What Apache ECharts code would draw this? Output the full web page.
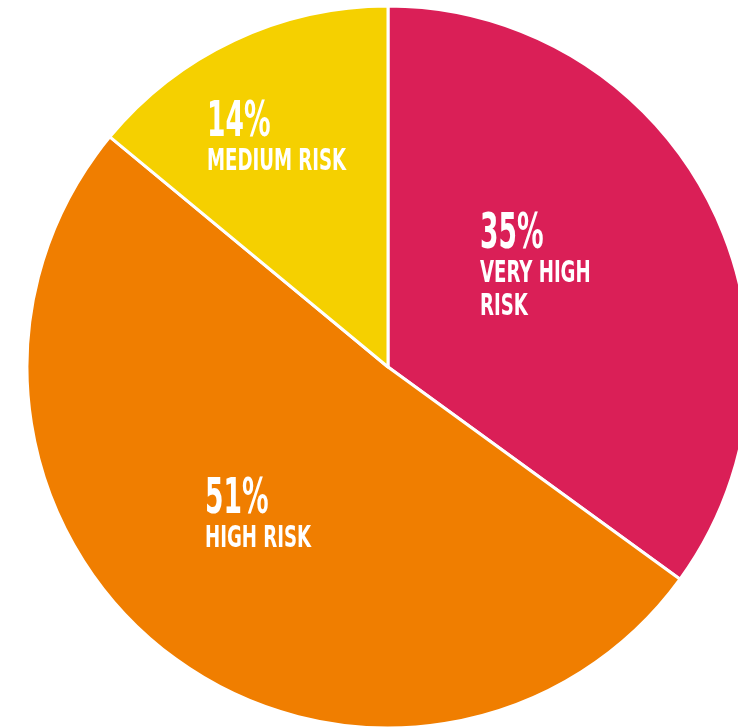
<!DOCTYPE html>
<html>
<head>
<meta charset="utf-8">
<script src="https://cdn.jsdelivr.net/npm/echarts@6/dist/echarts.min.js"></script>
<style>
  html, body { margin: 0; padding: 0; background: #ffffff; }
  #chart { width: 738px; height: 728px; }
</style>
</head>
<body>
<div id="chart"></div>
<script>
// Risk categories, clockwise from 12 o'clock
const categories = ['VERY HIGH\nRISK', 'HIGH RISK', 'MEDIUM RISK'];
const shares = [35, 51, 14];
const sliceColors = ['#DA1F57', '#F07E00', '#F5D000'];

const cx = 388, cy = 367, R = 361;
// top-left corner of each label block, relative to the pie centre
const labelOffsets = [[92, -155], [-183, 110], [-181, -267]];

const fontFamily = '"DejaVu Sans Condensed", "DejaVu Sans", sans-serif';

// condensed white labels: big percentage over the category name
const labelGraphics = categories.map((name, i) => ({
  type: 'group',
  x: cx + labelOffsets[i][0],
  y: cy + labelOffsets[i][1],
  silent: true,
  children: [
    {
      type: 'text',
      x: 0, y: 0,
      z: 100,
      scaleX: 0.59,
      style: {
        text: shares[i] + '%',
        fill: '#ffffff',
        font: 'bold 50px ' + fontFamily,
        lineHeight: 46,
        textAlign: 'left',
        textVerticalAlign: 'top'
      }
    },
    {
      type: 'text',
      x: 0, y: 45,
      z: 100,
      scaleX: 0.65,
      style: {
        text: name,
        fill: '#ffffff',
        font: 'bold 31px ' + fontFamily,
        lineHeight: 33,
        textAlign: 'left',
        textVerticalAlign: 'top'
      }
    }
  ]
}));

const chart = echarts.init(document.getElementById('chart'), null, { renderer: 'canvas' });

chart.setOption({
  animation: false,
  graphic: { elements: labelGraphics },
  series: [{
    type: 'pie',
    z: 1,
    center: [cx, cy],
    radius: [0, R],
    startAngle: 90,
    clockwise: true,
    silent: true,
    itemStyle: { borderColor: '#ffffff', borderWidth: 3 },
    label: { show: false },
    labelLine: { show: false },
    data: categories.map((name, i) => ({
      name,
      value: shares[i],
      itemStyle: { color: sliceColors[i] }
    }))
  }]
});
</script>
</body>
</html>
